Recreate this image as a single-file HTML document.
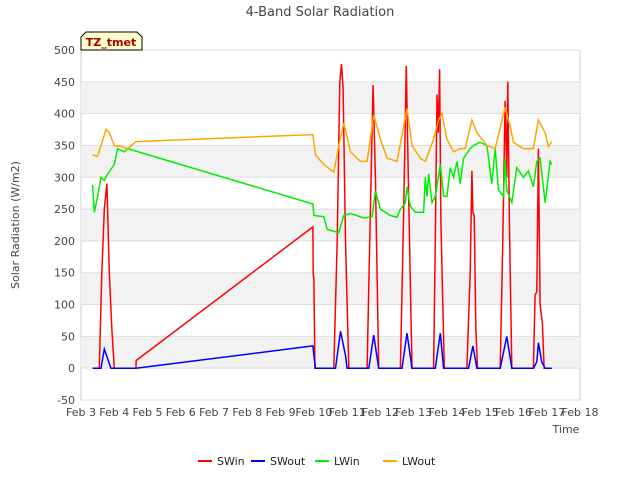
<!DOCTYPE html>
<html><head><meta charset="utf-8"><style>
body{margin:0;background:#fff;font-family:"Liberation Sans","DejaVu Sans",sans-serif;}
svg text{font-family:"DejaVu Sans","Liberation Sans",sans-serif;}
</style></head><body>
<svg id="c" width="640" height="480" xmlns="http://www.w3.org/2000/svg">
<rect width="640" height="480" fill="#fff"/>
<g id="bands"></g><g id="grid"></g><g id="axes"></g><g id="series"></g>
<text x="320" y="16" text-anchor="middle" font-size="13" fill="#444">4-Band Solar Radiation</text>
<text transform="translate(19,225) rotate(-90)" text-anchor="middle" font-size="11" fill="#444">Solar Radiation (W/m2)</text>
<text x="566" y="433" text-anchor="middle" font-size="11" fill="#444">Time</text>
<g>
<path d="M81,50 L81,37 L86,32 L137,32 L142,37 L142,50 Z" fill="#ffffcc" stroke="#000" stroke-width="1"/>
<text x="111" y="46" text-anchor="middle" font-size="11" font-weight="bold" fill="#aa0000">TZ_tmet</text>
</g>
<g id="legend"></g>
</svg>
<script>
const yTicks=[-50,0,50,100,150,200,250,300,350,400,450,500];
const xTickLabels=["Feb 3","Feb 4","Feb 5","Feb 6","Feb 7","Feb 8","Feb 9","Feb 10","Feb 11","Feb 12","Feb 13","Feb 14","Feb 15","Feb 16","Feb 17","Feb 18"];
const seriesNames=["SWin","SWout","LWin","LWout"];
const seriesColors=["#ff0000","#0000ff","#00ee00","#ffa500"];
const swinT=[0.35,0.55,0.62,0.7,0.78,0.85,0.93,1.0,1.4,1.65,1.66,6.97,6.98,7.0,7.03,7.6,7.7,7.78,7.83,7.88,7.95,8.05,8.6,8.7,8.78,8.85,8.95,9.6,9.7,9.78,9.84,9.95,10.6,10.65,10.7,10.74,10.78,10.82,10.92,11.6,11.7,11.75,11.78,11.82,11.87,11.92,12.6,12.68,12.75,12.8,12.83,12.88,12.95,13.6,13.65,13.7,13.75,13.8,13.87,13.92,14.15];
const swinV=[0,0,140,250,290,150,60,0,0,0,12,222,148,140,0,0,200,450,478,440,200,0,0,250,445,300,0,0,250,475,300,0,0,200,430,370,470,230,0,0,150,310,245,240,60,0,0,200,420,300,450,220,0,0,115,120,345,100,70,0,0];
const swoutT=[0.35,0.6,0.7,0.8,0.9,1.4,1.65,6.97,7.0,7.05,7.65,7.8,7.95,8.0,8.65,8.8,8.95,9.65,9.8,9.95,10.65,10.8,10.9,11.65,11.78,11.9,12.6,12.8,12.95,13.6,13.7,13.75,13.85,13.95,14.15];
const swoutV=[0,0,30,15,0,0,0,35,20,0,0,58,20,0,0,52,0,0,55,0,0,55,0,0,35,0,0,50,0,0,10,40,10,0,0];
const lwinT=[0.35,0.4,0.5,0.6,0.7,0.8,1.0,1.1,1.3,1.4,6.97,7.0,7.3,7.4,7.75,7.9,8.1,8.5,8.75,8.85,9.0,9.3,9.5,9.6,9.75,9.8,9.9,10.05,10.3,10.35,10.4,10.45,10.55,10.65,10.8,10.9,11.0,11.1,11.2,11.3,11.4,11.5,11.7,11.8,12.0,12.2,12.35,12.45,12.55,12.7,12.75,12.8,12.95,13.1,13.3,13.45,13.6,13.7,13.8,13.95,14.1,14.15];
const lwinV=[288,245,270,300,295,305,320,345,340,345,258,240,238,218,213,240,243,236,238,278,250,240,237,250,260,285,255,245,245,300,270,305,260,270,320,270,270,315,300,325,290,330,345,350,355,350,290,345,280,270,330,280,260,315,300,310,285,325,330,260,325,320];
const lwoutT=[0.35,0.5,0.75,0.85,1.0,1.25,1.4,1.65,6.97,7.05,7.3,7.6,7.75,7.9,8.1,8.4,8.6,8.8,9.0,9.2,9.5,9.7,9.8,9.95,10.2,10.35,10.6,10.75,10.85,11.0,11.2,11.4,11.55,11.75,11.9,12.2,12.45,12.75,12.9,13.0,13.3,13.6,13.75,13.95,14.05,14.15];
const lwoutV=[335,333,375,370,350,348,345,356,367,335,320,308,350,385,340,325,325,398,360,330,325,380,408,350,330,325,360,390,400,360,340,345,345,390,370,350,345,410,380,355,345,345,390,370,348,356];

const X0=81,X1=580,Y0=50,Y1=400;
const xs=d=>X0+d*(X1-X0)/15;
const ys=v=>Y1-(v+50)*(Y1-Y0)/550;
const NS="http://www.w3.org/2000/svg";
function mk(tag,at,parent){const e=document.createElementNS(NS,tag);for(const k in at)e.setAttribute(k,at[k]);parent.appendChild(e);return e;}
const bands=document.getElementById('bands'),grid=document.getElementById('grid'),axes=document.getElementById('axes'),ser=document.getElementById('series'),leg=document.getElementById('legend');
mk('rect',{x:X0,y:Y0,width:X1-X0,height:Y1-Y0,fill:'#fff',stroke:'#ccc'},bands);
for(let i=0;i<yTicks.length-1;i++){ if(i%2===1){const r=mk('rect',{x:X0,y:ys(yTicks[i+1]),width:X1-X0,height:ys(yTicks[i])-ys(yTicks[i+1]),fill:'#f2f2f2'},bands);

}}
yTicks.forEach(v=>{const l=mk('line',{x1:X0,x2:X1,y1:ys(v),y2:ys(v),stroke:'#ddd'},grid);


const t=mk('text',{x:X0-6,y:ys(v)+4,'text-anchor':'end','font-size':11,fill:'#444'},axes);t.textContent=v;

});
xTickLabels.forEach((s,i)=>{const t=mk('text',{x:xs(i),y:416,'text-anchor':'middle','font-size':11,fill:'#444'},axes);t.textContent=s;

});
const data=[[swinT,swinV],[swoutT,swoutV],[lwinT,lwinV],[lwoutT,lwoutV]];
data.forEach((d,i)=>{const pts=d[0].map((t,j)=>xs(t).toFixed(1)+','+ys(d[1][j]).toFixed(1)).join(' ');
const p=mk('polyline',{points:pts,fill:'none',stroke:seriesColors[i],'stroke-width':1.5},ser);

});
const legX=[198,251,315,383];
seriesNames.forEach((n,i)=>{const g=mk('g',{},leg);


mk('line',{x1:legX[i],x2:legX[i]+14,y1:461,y2:461,stroke:seriesColors[i],'stroke-width':2},g);
const t=mk('text',{x:legX[i]+19,y:465,'font-size':11,fill:'#222'},g);t.textContent=n;});
</script>
</body></html>
